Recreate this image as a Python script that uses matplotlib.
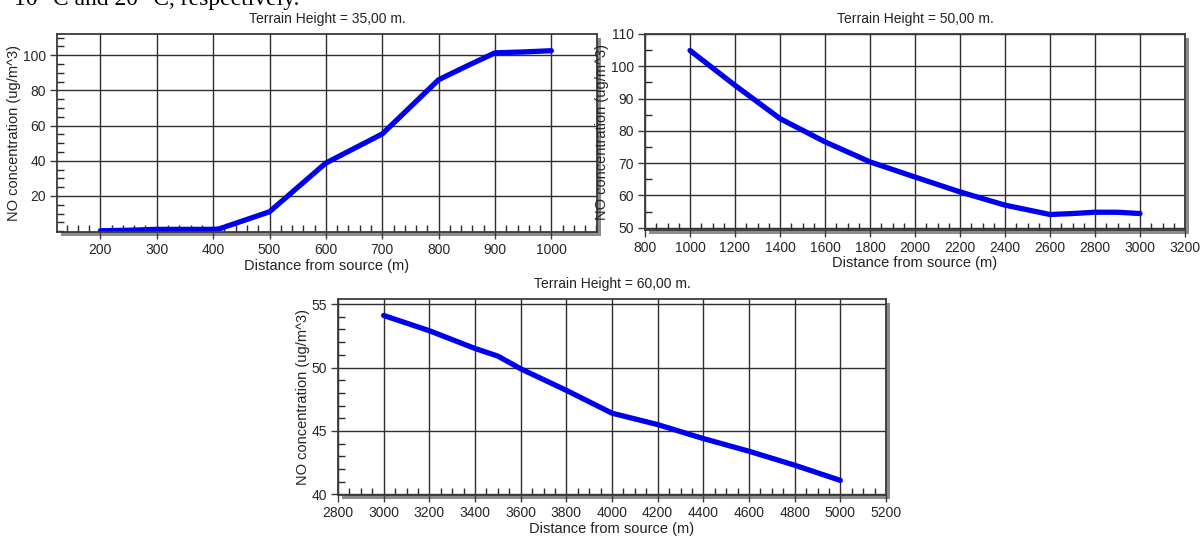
import numpy as np
import matplotlib.pyplot as plt
from matplotlib.patches import Rectangle
from matplotlib.ticker import MultipleLocator

plt.rcParams['font.family'] = ['Liberation Sans', 'DejaVu Sans']

# terrain height 35 m
dist_35 = [200, 250, 300, 400, 410, 500, 600, 700, 800, 850, 900, 950, 1000]
conc_35 = [0.2, 0.5, 1.0, 1.0, 1.2, 11.0, 38.7, 55.2, 86.0, 93.8, 101.3, 101.8, 102.5]

# terrain height 50 m
dist_50 = [1000, 1200, 1400, 1600, 1800, 2000, 2200, 2400, 2600, 2700, 2800, 2900, 3000]
conc_50 = [104.9, 94.1, 83.8, 76.6, 70.4, 65.7, 61.1, 57.0, 54.1, 54.4, 54.8, 54.8, 54.4]

# terrain height 60 m
dist_60 = [3000, 3200, 3400, 3500, 3600, 3800, 4000, 4200, 4400, 4600, 4800, 5000]
conc_60 = [54.1, 52.9, 51.5, 50.9, 49.9, 48.2, 46.4, 45.5, 44.4, 43.4, 42.3, 41.1]

titles = ["Terrain Height = 35,00 m.", "Terrain Height = 50,00 m.", "Terrain Height = 60,00 m."]

W, H = 1203, 538
fig = plt.figure(figsize=(W / 100, H / 100), dpi=100)


def px_axes(l, t, r, b):
    rect = [l / W, 1 - b / H, (r - l) / W, (b - t) / H]
    # grey drop shadow like the original program draws
    sh = Rectangle((rect[0] + 4 / W, rect[1] - 4 / H), rect[2], rect[3],
                   transform=fig.transFigure, facecolor='#8c8c8c', edgecolor='none', zorder=0)
    fig.add_artist(sh)
    ax = fig.add_axes(rect, zorder=1)
    ax.set_facecolor('white')
    return ax


def style(ax, xlim, ylim, xmaj, xmin, ymin, yticks, title):
    ax.set_xlim(*xlim)
    ax.set_ylim(*ylim)
    ax.xaxis.set_major_locator(MultipleLocator(xmaj))
    ax.xaxis.set_minor_locator(MultipleLocator(xmin))
    ax.set_yticks(yticks)
    ax.yaxis.set_minor_locator(MultipleLocator(ymin))
    ax.grid(True, which='major', color='#2e2e2e', lw=1.0)
    ax.set_axisbelow(True)
    for s in ax.spines.values():
        s.set_color('#3a3a3a')
        s.set_linewidth(1.3)
    ax.tick_params(which='major', direction='out', length=5, width=1,
                   color='#3a3a3a', labelsize=10, labelcolor='#262626', pad=3)
    ax.tick_params(which='minor', direction='in', length=5, width=1, color='#2a2a2a')
    ax.set_xlabel("Distance from source (m)", fontsize=10.5, color='#222222', labelpad=1)
    ax.set_ylabel("NO concentration (ug/m^3)", fontsize=10.5, color='#222222', labelpad=1)
    ax.set_title(title, fontsize=10, color='#222222', pad=8)


ax1 = px_axes(57, 34, 597, 232)
ax1.plot(dist_35, conc_35, color='#0000ee', lw=3.8, solid_capstyle='round', solid_joinstyle='round')
style(ax1, (123, 1081), (-0.5, 112), 100, 20, 5, [20, 40, 60, 80, 100], titles[0])

ax2 = px_axes(645, 34, 1185, 230)
ax2.plot(dist_50, conc_50, color='#0000ee', lw=3.8, solid_capstyle='round', solid_joinstyle='round')
style(ax2, (800, 3200), (49.3, 110), 200, 50, 5, [50, 60, 70, 80, 90, 100, 110], titles[1])

ax3 = px_axes(338, 299, 886, 495)
ax3.plot(dist_60, conc_60, color='#0000ee', lw=3.8, solid_capstyle='round', solid_joinstyle='round')
style(ax3, (2800, 5200), (39.95, 55.4), 200, 50, 1, [40, 45, 50, 55], titles[2])

# cut-off line of the surrounding document text
fig.text(0.012, 1 - 5 / H, "10 \u00b0C and 20 \u00b0C, respectively.", family='Liberation Serif',
         fontsize=17, va='baseline', ha='left', color='black')

fig.savefig("out.png", dpi=100)
